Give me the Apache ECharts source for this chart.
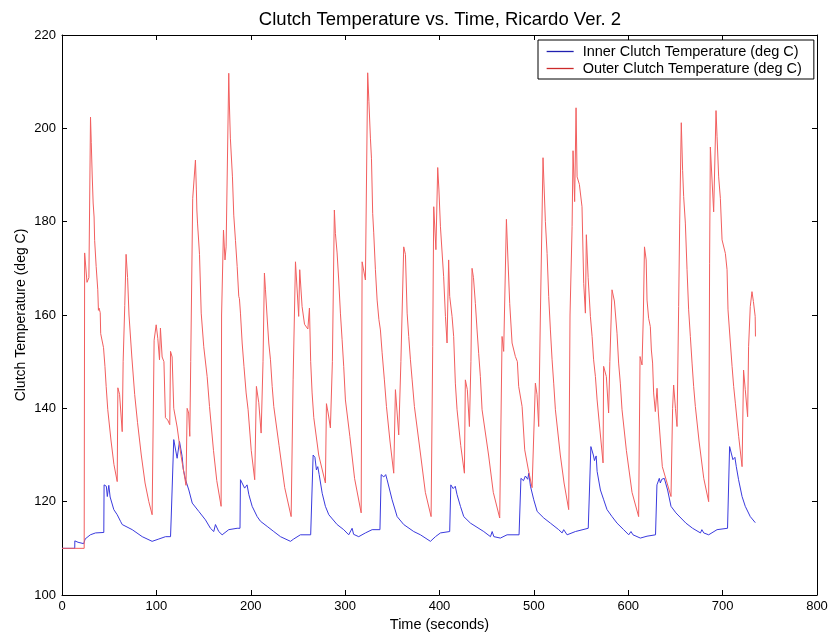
<!DOCTYPE html>
<html>
<head>
<meta charset="utf-8">
<title>Clutch Temperature vs. Time</title>
<script src="https://cdn.jsdelivr.net/npm/echarts@6.0.0/dist/echarts.min.js"></script>
<style>
  html, body { margin: 0; padding: 0; background: #fff; }
  #chart { width: 831px; height: 633px; }
</style>
</head>
<body>
<div id="chart"></div>
<script>
// axis ticks
const xTicks = [0, 100, 200, 300, 400, 500, 600, 700, 800];
const yTicks = [100, 120, 140, 160, 180, 200, 220];

// inner clutch (blue)
const innerTime = [0, 13.5, 13.6, 17, 23, 24.5, 30, 35.5, 44.3, 44.6, 47, 48, 49.6, 51, 54.9, 58.5, 62, 63.8, 74.4, 85,
  95.5, 102.6, 109.7, 115, 115.7, 118.4, 120, 122, 123, 124.5, 127.3, 128.5, 130.9, 134.4, 138, 145, 152, 157.3, 160.8, 162.6,
  166.1, 169.7, 176.7, 185.6, 188.6, 189.1, 191, 193.5, 196.1, 198, 201.5, 206.8, 210.3, 217.4, 224.4, 231.5, 242.1, 245.5, 252.6, 263.5,
  266.1, 268, 269.6, 271, 272.5, 275.7, 279.1, 282.7, 291.5, 298.5, 303.8, 307.4, 309, 314.4, 321.5, 328.6, 336.9, 338.2, 341, 343,
  344.5, 349.8, 355.1, 362.1, 372.7, 379.8, 390.4, 395.7, 401, 410.8, 412, 414.5, 416.7, 418.6, 422.2, 425.7, 432.8, 446.9, 454, 455.8,
  457.6, 464.5, 471.6, 484.3, 486.3, 489, 491, 493.5, 494.6, 496.4, 499.9, 503.5, 510.5, 517.5, 526.3, 529.9, 531.6, 535.2, 544, 557.6,
  560.4, 563, 564.2, 566, 567, 570.5, 574, 577.5, 582.8, 588.1, 595.1, 600.5, 602.9, 605, 612.8, 619.9, 628.9, 630.4, 632.9, 634,
  635.5, 638.2, 641.7, 645.3, 650.5, 655.8, 661.1, 668.2, 676.5, 678, 680, 685.2, 694.1, 705.2, 707.4, 709, 710.9, 713, 714.5, 716.9,
  720.6, 724, 729.3, 734.6];
const innerTemp = [110, 110, 111.6, 111.3, 111, 112, 112.9, 113.3, 113.4, 123.6, 123.3, 121.1, 123.5, 121, 118.3, 117.2, 115.8, 115.1, 114, 112.5,
  111.5, 112, 112.5, 112.5, 116.5, 133.3, 133, 129.3, 129, 132.9, 129.7, 127, 124.7, 122.5, 119.7, 117.9, 116.1, 114.3, 113.6, 115.1,
  113.6, 112.9, 114, 114.3, 114.3, 124.7, 124.7, 122.9, 123.6, 121.5, 119, 116.8, 115.8, 114.7, 113.6, 112.5, 111.5, 112, 112.9, 112.9,
  130, 129.5, 126.8, 127.5, 125.8, 121.8, 119, 117.2, 115.1, 114, 112.9, 114.3, 113, 112.5, 113.3, 114, 114, 125.8, 125.3, 125.8,
  124.7, 120.4, 116.8, 115.1, 113.6, 112.9, 111.5, 112.5, 113.3, 113.6, 123.6, 122.8, 123.3, 121.5, 119, 116.8, 115.4, 113.6, 112.5, 113.6,
  112.5, 112.2, 112.9, 112.9, 125, 124.5, 125.5, 124.8, 126.1, 123.3, 120.4, 117.9, 116.5, 115.4, 114, 113.3, 114, 112.9, 113.6, 114.3,
  131.8, 130, 128.8, 129.8, 126.5, 122.5, 120.4, 118.3, 116.8, 115.4, 114, 112.9, 113.6, 112.9, 112.2, 112.6, 112.9, 123.6, 125, 124,
  124.8, 125, 122.5, 119, 117.6, 116.5, 115.4, 114.3, 113.3, 114, 113.3, 112.9, 114, 114.3, 131.8, 131.5, 129, 129.5, 127.5, 124.7,
  121.1, 119, 116.8, 115.5];

// outer clutch (red)
const outerTime = [0, 23.5, 24, 26.5, 28.5, 30.2, 31, 32, 33, 34, 34.6, 36.2, 37.9, 38.6, 39.2, 40.5, 41, 44, 45.5, 46.8,
  48.5, 52, 55, 58.5, 59.2, 61, 63.8, 64.8, 66.5, 67.9, 69.5, 71, 74, 77, 80, 84, 88, 92, 95.5, 96.8,
  97.6, 99.8, 101.5, 103.3, 104.3, 106.1, 108, 109.6, 112, 114.2, 115, 116.7, 118.4, 122, 126, 131.4, 132.6, 134.2, 135.4, 136.4,
  138.5, 141.4, 142.4, 142.9, 143.6, 145.7, 147.5, 150.2, 153.8, 156.3, 160.5, 164, 168.6, 169.1, 171.1, 172.7, 173.9, 176.7, 177.4, 178.4,
  180.6, 182, 183.8, 185.6, 187.3, 188, 189.1, 190.9, 192.8, 195.1, 197.2, 200.5, 204.2, 206, 208.5, 211, 213, 214.5, 215.6, 217.2,
  219.1, 220.9, 222.7, 224.4, 230, 236, 242.8, 244.9, 247.4, 250.8, 251.9, 254.4, 257, 260.5, 262.2, 263.5, 265, 266.8, 272, 279.1,
  280.2, 282, 284.4, 286.5, 288.6, 289.7, 291.5, 293.2, 295, 296.8, 298.5, 300.3, 305, 310, 317, 318, 321.5, 323.9, 325.2, 326.8,
  327.9, 329.2, 330.3, 332.1, 333.9, 334.8, 335.8, 337.4, 339.2, 341.6, 343.8, 347.5, 351.5, 353.3, 356.8, 359.1, 362.1, 363.9, 365.7, 367.4,
  369.2, 371, 373.4, 380, 385, 391.1, 392.8, 393.9, 396.2, 398.1, 399.4, 401, 402.8, 404.4, 406.3, 408, 409.7, 410.8, 413.3, 415,
  416.8, 418.6, 422.5, 426.4, 427.4, 429.5, 431.7, 433.3, 434.5, 436, 438, 439.8, 441.5, 443.3, 445.1, 452, 457, 463.8, 466.3, 468,
  470.9, 472.5, 474.4, 476.9, 480.4, 482.5, 483.9, 487.5, 490.3, 494, 498.1, 501.6, 503.3, 505.1, 506.9, 509.7, 512.2, 514, 515.7, 517.5,
  519.3, 521, 522.8, 528, 532, 536.9, 538.3, 540.5, 541.5, 543.2, 544.7, 545.8, 548.2, 551, 552.8, 554.6, 555.6, 557.5, 559.9, 561.7,
  563.3, 565.2, 567, 573.3, 573.9, 576.8, 579.2, 580.5, 582.8, 583.9, 585.3, 588.1, 589.8, 591.6, 593.4, 598, 604, 611, 612.5, 614.6,
  616, 617.2, 619, 619.9, 621.6, 623.4, 624.5, 625.8, 626.9, 628.7, 630.5, 631.9, 636.1, 645.3, 647, 648.1, 650, 651.7, 653.4, 654.5,
  656.2, 657.6, 658.7, 660.5, 662.3, 664, 665.8, 667.6, 669.3, 671.1, 675, 680, 685.2, 686.2, 687, 690.5, 693, 694.1, 695.8, 697.6,
  699.4, 702.9, 704.7, 705.7, 708.2, 710, 711.7, 713.5, 717, 720.6, 722.2, 724, 726.5, 727.5, 729.3, 731.1, 732.6, 734.5, 734.8];
const outerTemp = [110, 110, 173.3, 167, 168, 202.4, 197, 190, 184, 181, 176, 170.4, 165.4, 161, 161.5, 160.5, 156, 153, 149, 144.7,
  139.7, 133, 128, 124.3, 144.4, 143, 135, 150, 162, 173, 168, 160, 151, 143, 137, 130, 124, 120, 117.2, 117.2,
  154.6, 157.9, 155, 150.4, 157.2, 151, 150, 138, 137.5, 136.5, 152.2, 151, 140, 136, 130, 123.5, 140, 139, 134, 150,
  185, 193.2, 186.8, 182.5, 179.7, 173, 160.4, 153.2, 146.8, 140.4, 131, 124.5, 119, 160, 178.2, 171.8, 174.6, 211.8, 205, 197.9,
  189.6, 181.4, 176, 170.4, 164, 163.5, 160.4, 154, 149, 143.3, 139.7, 131, 124.7, 144.7, 141.2, 134.7, 150, 169, 165.4, 160,
  154, 150.4, 144.7, 140.4, 132, 123, 116.8, 146.1, 171.4, 159.7, 169.7, 161.8, 158, 157, 161.5, 150, 143.3, 138, 130, 124,
  141, 139, 135.8, 150, 182.5, 177.5, 173.3, 167.5, 160.4, 154.7, 149, 141.8, 134, 125, 117.6, 171.4, 167.5, 211.9, 205.7, 197.9,
  193.6, 181.8, 177.6, 169.7, 163.2, 163, 159, 156.8, 151.9, 146.1, 140.4, 133, 126.1, 144, 134.3, 150, 174.6, 173, 160.4, 155.4,
  150.4, 146.1, 140.4, 130, 122, 116.8, 153.2, 183.2, 174, 191.6, 186.8, 178.9, 179, 168.2, 159.7, 154, 171.8, 164, 159.7, 155.4,
  145.4, 139.7, 132, 126.1, 146.1, 144, 136.1, 150, 170, 168, 162.5, 156.8, 151.8, 146.8, 139.7, 130, 122, 116.5, 155.4, 152.2,
  180.5, 172, 162.5, 154, 151.1, 150, 144.7, 140.4, 131.1, 127, 123, 145.4, 143, 136.1, 160, 193.7, 180, 173.2, 164, 156.8,
  150.4, 145.4, 139.7, 130, 124, 118.3, 160, 179, 195.2, 184.3, 204.4, 189.6, 188, 183.2, 166.8, 160.4, 177.2, 168, 159.7, 155.4,
  150.4, 146.8, 141.8, 128.3, 149, 146.8, 139, 150, 165.4, 165.7, 163, 156.1, 149.7, 145.4, 139.7, 131, 122, 116.8, 151.1, 149.3,
  160, 174.6, 171.8, 163.2, 159.3, 157.5, 152.5, 149.7, 143.3, 139.3, 144.3, 139, 127.5, 121.1, 140, 145, 140, 136.1, 161.8, 179.7,
  201.2, 191, 185.4, 179.7, 169.7, 161.1, 155.4, 149.7, 144.7, 140.4, 133, 125, 120, 171.1, 196, 182.1, 203.8, 198.2, 189.6, 185,
  176.1, 173.2, 169.7, 161.1, 154, 149, 144.7, 141.1, 134, 127.5, 148.2, 144, 138.2, 153.2, 161.8, 165, 162.9, 159.7, 155.4];

const fontFamily = 'Liberation Sans, Arial, sans-serif';

function pairs(ts, vs) {
  return ts.map((t, i) => [t, vs[i]]);
}

const chart = echarts.init(document.getElementById('chart'), null, { renderer: 'canvas' });

const axisCommon = {
  type: 'value',
  axisLine: { show: true, onZero: false, lineStyle: { color: '#000', width: 1 } },
  axisTick: { show: true, inside: true, length: 5, lineStyle: { color: '#000' } },
  splitLine: { show: false },
  axisLabel: { color: '#000', fontSize: 13, fontFamily: fontFamily }
};

const option = {
  animation: false,
  backgroundColor: '#fff',
  title: {
    text: 'Clutch Temperature vs. Time, Ricardo Ver. 2',
    left: 435,
    top: 5,
    textAlign: 'center',
    textStyle: { fontSize: 18.5, fontWeight: 'normal', color: '#000', fontFamily: fontFamily }
  },
  legend: {
    orient: 'vertical',
    left: 538,
    top: 40,
    padding: [4, 12, 3, 8],
    itemWidth: 27,
    itemHeight: 14,
    itemGap: 2,
    borderColor: '#000',
    borderWidth: 1,
    backgroundColor: '#fff',
    itemStyle: { opacity: 0 },
    textStyle: { fontSize: 14.5, color: '#000', fontFamily: fontFamily, padding: [0, 0, 0, 4] },
    data: [
      { name: 'Inner Clutch Temperature (deg C)', lineStyle: { color: '#2020b0', width: 1.3 } },
      { name: 'Outer Clutch Temperature (deg C)', lineStyle: { color: '#cc2a2a', width: 1.3 } }
    ]
  },
  grid: { left: 62, right: 14, top: 35, bottom: 38, containLabel: false, outerBoundsMode: 'none' },
  xAxis: [
    Object.assign({}, axisCommon, {
      position: 'bottom',
      min: xTicks[0], max: xTicks[xTicks.length - 1], interval: 100,
      name: 'Time (seconds)',
      nameLocation: 'middle',
      nameGap: 17,
      nameTextStyle: { fontSize: 14.5, color: '#000', fontFamily: fontFamily },
      axisLabel: Object.assign({}, axisCommon.axisLabel, { margin: 5 })
    }),
    Object.assign({}, axisCommon, {
      position: 'top',
      min: xTicks[0], max: xTicks[xTicks.length - 1], interval: 100,
      axisLabel: { show: false }
    })
  ],
  yAxis: [
    Object.assign({}, axisCommon, {
      position: 'left',
      min: yTicks[0], max: yTicks[yTicks.length - 1], interval: 20,
      name: 'Clutch Temperature (deg C)',
      nameLocation: 'middle',
      nameGap: 34,
      nameMoveOverlap: false,
      nameTextStyle: { fontSize: 14, color: '#000', fontFamily: fontFamily },
      axisLabel: Object.assign({}, axisCommon.axisLabel, { margin: 6 })
    }),
    Object.assign({}, axisCommon, {
      position: 'right',
      min: yTicks[0], max: yTicks[yTicks.length - 1], interval: 20,
      axisLabel: { show: false }
    })
  ],
  series: [
    {
      name: 'Inner Clutch Temperature (deg C)',
      type: 'line',
      xAxisIndex: 0,
      yAxisIndex: 0,
      symbol: 'none',
      showSymbol: false,
      color: '#2222cc',
      lineStyle: { width: 1, color: '#3a3ade' },
      data: pairs(innerTime, innerTemp)
    },
    {
      name: 'Outer Clutch Temperature (deg C)',
      type: 'line',
      xAxisIndex: 0,
      yAxisIndex: 0,
      symbol: 'none',
      showSymbol: false,
      color: '#d42020',
      lineStyle: { width: 1, color: '#f25e5e' },
      data: pairs(outerTime, outerTemp)
    }
  ]
};

chart.setOption(option);
</script>
</body>
</html>
